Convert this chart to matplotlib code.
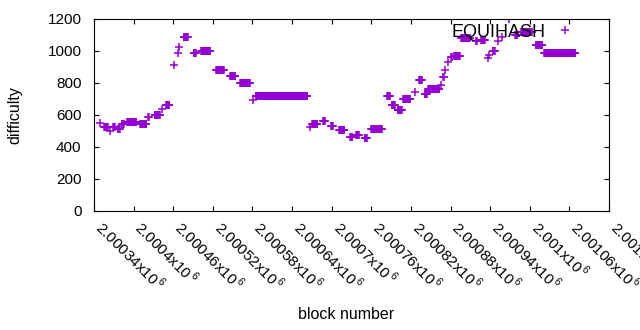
import numpy as np
import matplotlib
matplotlib.use('Agg')
from matplotlib import pyplot as plt

plt.rcParams['font.family'] = ['Liberation Sans', 'DejaVu Sans']
plt.rcParams['mathtext.fontset'] = 'custom'
plt.rcParams['mathtext.rm'] = 'Liberation Sans'

# runs of blocks sharing the same difficulty (first block, last block, difficulty)
seg_start = [2000349, 2000355, 2000364, 2000369, 2000376, 2000382, 2000390, 2000410,
             2000422, 2000432, 2000443, 2000449, 2000461, 2000467, 2000469, 2000476,
             2000491, 2000502, 2000525, 2000546, 2000561, 2000581, 2000585, 2000667,
             2000670, 2000687, 2000699, 2000711, 2000728, 2000737, 2000750, 2000760,
             2000784, 2000791, 2000800, 2000808, 2000826, 2000832, 2000841, 2000846,
             2000866, 2000869, 2000872, 2000876, 2000881, 2000885, 2000896, 2000919,
             2000926, 2000937, 2000938, 2000944, 2000952, 2000958, 2000969, 2000978,
             2000987, 2001009, 2001022]
seg_end = [2000349, 2000361, 2000364, 2000372, 2000379, 2000385, 2000404, 2000419,
           2000423, 2000440, 2000443, 2000454, 2000461, 2000467, 2000469, 2000482,
           2000494, 2000516, 2000537, 2000554, 2000576, 2000581, 2000663, 2000667,
           2000678, 2000690, 2000702, 2000719, 2000731, 2000741, 2000753, 2000776,
           2000788, 2000796, 2000806, 2000819, 2000826, 2000837, 2000844, 2000863,
           2000866, 2000870, 2000872, 2000876, 2000882, 2000894, 2000909, 2000920,
           2000932, 2000937, 2000938, 2000947, 2000952, 2000958, 2000969, 2000981,
           2001003, 2001019, 2001069]
seg_value = [548, 525, 500, 525, 515, 545, 555, 545,
             585, 600, 640, 660, 912, 985, 1025, 1085,
             985, 1000, 880, 845, 800, 695, 720, 525,
             545, 565, 530, 505, 460, 475, 455, 510,
             718, 660, 630, 700, 745, 820, 730, 760,
             790, 840, 880, 930, 965, 970, 1080, 1065,
             1070, 955, 975, 1000, 1060, 1085, 1200, 1100,
             1120, 1040, 985]

x_ticks = [2000340, 2000400, 2000460, 2000520, 2000580, 2000640, 2000700,
           2000760, 2000820, 2000880, 2000940, 2001000, 2001060, 2001120]
x_labels = ['2.00034', '2.0004', '2.00046', '2.00052', '2.00058', '2.00064', '2.0007',
            '2.00076', '2.00082', '2.00088', '2.00094', '2.001', '2.00106', '2.00112']
y_ticks = [0, 200, 400, 600, 800, 1000, 1200]

blocks = np.concatenate([np.arange(s, e + 1) for s, e in zip(seg_start, seg_end)])
diff = np.concatenate([np.full(e - s + 1, v) for s, e, v in zip(seg_start, seg_end, seg_value)])

fig = plt.figure(figsize=(6.4, 3.3), dpi=100)
ax = fig.add_axes([94/640, 1 - 211/330, 515/640, 192/330])

ax.plot(blocks, diff, '+', color='#9400d3', markersize=6.2, markeredgewidth=1.1,
        label='EQUIHASH')

ax.set_xlim(x_ticks[0], x_ticks[-1])
ax.set_ylim(0, 1200)
ax.set_yticks(y_ticks)
ax.set_xticks(x_ticks)
ax.set_xticklabels([l + r'x10$^{\,6}$' for l in x_labels], rotation=-45, ha='left',
                   va='baseline', rotation_mode='anchor')
ax.tick_params(direction='in', length=3.3, width=0.8, top=True, right=True,
               labelsize=11, colors='black')
ax.tick_params(axis='x', pad=13)
ax.tick_params(axis='y', pad=9)
for s in ax.spines.values():
    s.set_linewidth(0.8)

ax.set_xlabel('block number', fontsize=11.5)
ax.set_ylabel('difficulty', fontsize=11.5)
ax.xaxis.set_label_coords(0.49, -0.5)
ax.yaxis.set_label_coords(-0.14, 0.5)

ax.legend(loc='center right', bbox_to_anchor=(0.972, 0.932), frameon=False,
          markerfirst=False, handlelength=1.5, handletextpad=0.3, fontsize=13,
          borderpad=0.4)

fig.savefig('out.png', dpi=100)
